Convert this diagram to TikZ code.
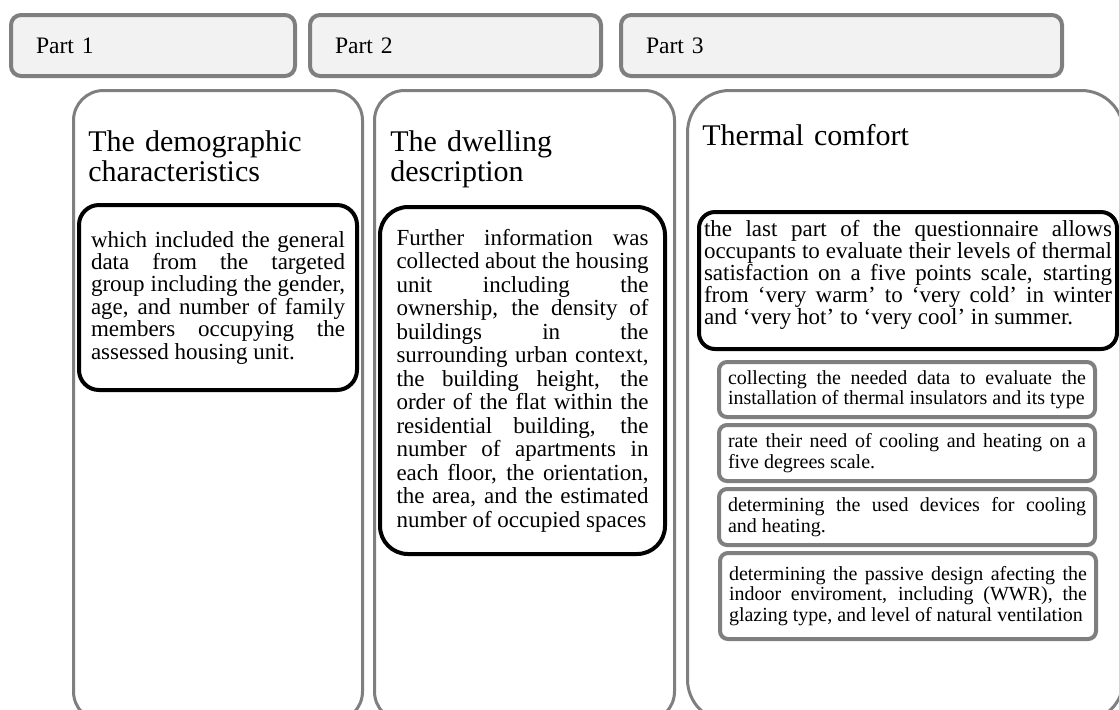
\documentclass[tikz,border=0pt]{standalone}
\usepackage{fontspec}
\setmainfont{Liberation Serif}
\usetikzlibrary{positioning}
\definecolor{framegray}{HTML}{7F7F7F}
\definecolor{barfill}{HTML}{F2F2F2}
\newcommand{\nohyph}{\hyphenpenalty=10000\relax\tolerance=10000\relax}
\tikzstyle{partbar} = [rectangle, rounded corners=5pt, draw=framegray, line width=2pt, fill=barfill, anchor=north west, minimum height=30.5pt, inner xsep=12.5pt, align=left, font=\fontsize{11.8pt}{14pt}\selectfont]
\tikzstyle{panel} = [rectangle, rounded corners=15pt, draw=framegray, line width=1.5pt, fill=white, anchor=north west]
\tikzstyle{titletext} = [anchor=base west, inner sep=0pt, align=left, font=\fontsize{15pt}{15pt}\selectfont]
\tikzstyle{blackbox} = [rectangle, rounded corners=10pt, draw=black, line width=2pt, fill=white, anchor=north west, inner ysep=0pt, align=justify, font=\fontsize{11.5pt}{11pt}\selectfont\nohyph]
\tikzstyle{graybox} = [rectangle, rounded corners=4pt, draw=framegray, line width=2pt, fill=white, anchor=north west, minimum width=188pt, inner xsep=4.5pt, inner ysep=0pt, text width=179pt, align=justify, font=\fontsize{10pt}{10.25pt}\selectfont\nohyph]

\begin{document}
\begin{tikzpicture}[x=0.5pt, y=-0.5pt]
\path[use as bounding box] (0,0) rectangle (1119,709);
\clip (0,0) rectangle (1119,709);

% top bars
\node (part1) [partbar, text width=117pt] at (9,13) {Part 1};
\node (part2) [partbar, text width=120.5pt] at (308,13) {Part 2};
\node (part3) [partbar, text width=195.5pt] at (619,13) {Part 3};

% columns
\node (panelA) [panel, minimum width=144.5pt, minimum height=315.5pt] at (72,89) {};
\node (panelB) [panel, minimum width=150pt, minimum height=315.5pt] at (373,89) {};
\node (panelC) [panel, rounded corners=21pt, minimum width=218pt, minimum height=315.5pt] at (686,89) {};

\node (titleA) [titletext, text width=130pt] at (88,151) {The demographic\\characteristics};
\node (titleB) [titletext, text width=130pt] at (390,151) {The dwelling\\description};
\node (titleC) [titletext, text width=200pt] at (702,145) {Thermal comfort};

% main descriptions
\node (demog) [blackbox, font=\fontsize{11.5pt}{11.2pt}\selectfont\nohyph, text width=127pt, inner xsep=6pt, minimum height=92.5pt] at (77,203) {which included the general\linebreak data from the targeted\linebreak group including the gender,\linebreak age, and number of family\linebreak members occupying the\linebreak assessed housing unit.};
\node (dwell) [blackbox, font=\fontsize{11.5pt}{11.75pt}\selectfont\nohyph, rounded corners=14pt, text width=126pt, inner xsep=8.25pt, minimum height=173.5pt] at (378,205) {Further information was\linebreak collected about the housing\linebreak unit including the\linebreak ownership, the density of\linebreak buildings in the\linebreak surrounding urban context,\linebreak the building height, the\linebreak order of the flat within the\linebreak residential building, the\linebreak number of apartments in\linebreak each floor, the orientation,\linebreak the area, and the estimated\linebreak number of occupied spaces};
\node (thermal) [blackbox, rounded corners=8pt, text width=204pt, inner xsep=2.5pt, minimum height=68.5pt] at (697,210) {the last part of the questionnaire allows\linebreak occupants to evaluate their levels of thermal\linebreak satisfaction on a five points scale, starting\linebreak from ‘very warm’ to ‘very cold’ in winter\linebreak and ‘very hot’ to ‘very cool’ in summer.\par\nointerlineskip\vbox to 6pt{}};

% thermal sub-items
\node (insul) [graybox, minimum height=27.5pt] at (717,360) {collecting the needed data to evaluate the\linebreak installation of thermal insulators and its type};
\node (need) [graybox, minimum height=28pt] at (717,423) {rate their need of cooling and heating on a\linebreak five degrees scale.};
\node (devices) [graybox, minimum height=28pt] at (717,487) {determining the used devices for cooling\linebreak and heating.};
\node (passive) [graybox, minimum height=43pt] at (718,551) {determining the passive design afecting the\linebreak indoor enviroment, including (WWR), the\linebreak glazing type, and level of natural ventilation};
\end{tikzpicture}
\end{document}
